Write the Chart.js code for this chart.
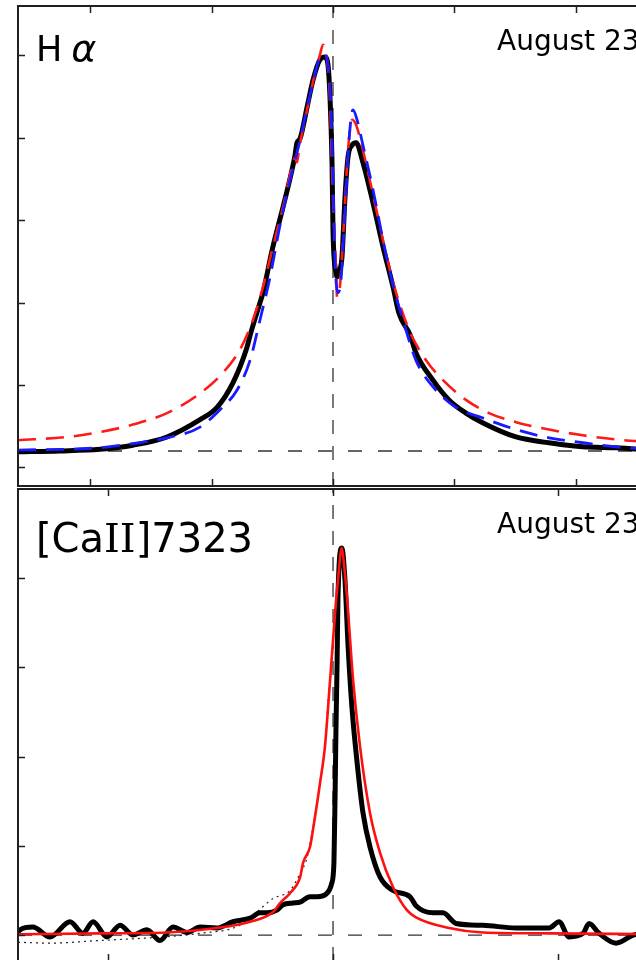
<!DOCTYPE html>
<html><head><meta charset="utf-8">
<script src="https://cdn.jsdelivr.net/npm/chart.js@4"></script>
<style>
html,body{margin:0;padding:0;background:#fff;overflow:hidden;width:636px;height:960px;}
canvas{position:absolute;left:0;}
#c1{top:0;}
#c2{top:480px;}
</style></head><body>
<canvas id="c1" width="680" height="495"></canvas>
<canvas id="c2" width="680" height="495"></canvas>
<script>
// ---------- Top panel: H-alpha (velocity km/s, normalised flux) ----------
const haObsVel  = [-2597,-2251,-1921,-1649,-1369,-1096,-956,-824,-709,-684,-602,-577,-519,-495,-412,-338,-313,-297,-272,-214,-165,-107,-66,-41,-25,-8,0,25,33,58,74,99,124,157,190,247,330,412,495,544,635,684,824,956,1096,1237,1509,1781,2061,2333,2613];
const haObsFlux = [0.19,0.20,0.22,0.27,0.37,0.58,0.73,1.03,1.46,1.60,2.00,2.12,2.52,2.68,3.16,3.61,3.79,3.94,3.99,4.37,4.70,4.95,4.98,4.88,4.50,3.70,2.88,2.36,2.31,2.40,2.55,3.28,3.77,3.91,3.94,3.70,3.21,2.68,2.19,1.87,1.61,1.39,1.06,0.82,0.66,0.54,0.37,0.30,0.25,0.24,0.21];

const haRedVel  = [-2597,-2193,-1921,-1649,-1369,-1096,-907,-767,-660,-577,-495,-412,-338,-313,-297,-280,-214,-165,-107,-82,-49,-25,0,25,33,58,91,124,157,190,247,330,412,495,627,767,907,1096,1286,1509,1781,2061,2333,2613];
const haRedFlux = [0.33,0.37,0.43,0.52,0.66,0.90,1.15,1.43,1.79,2.19,2.68,3.16,3.65,3.76,3.70,3.86,4.34,4.68,5.01,5.13,4.95,4.46,3.25,2.40,2.07,2.21,3.00,3.85,4.22,4.16,3.85,3.31,2.76,2.25,1.67,1.30,1.06,0.82,0.66,0.55,0.46,0.39,0.34,0.31];

const haBlueVel  = [-2597,-1921,-1649,-1369,-1096,-932,-791,-684,-602,-519,-437,-354,-272,-214,-165,-107,-74,-41,-16,0,16,41,66,99,132,165,198,247,330,412,495,577,684,824,1014,1237,1509,1781,2061,2333,2613];
const haBlueFlux = [0.21,0.24,0.29,0.36,0.49,0.70,0.94,1.30,1.79,2.31,2.94,3.49,3.97,4.36,4.67,4.98,5.01,4.88,4.34,3.49,2.52,2.12,2.28,3.12,3.97,4.34,4.22,3.91,3.37,2.76,2.21,1.79,1.30,0.98,0.73,0.60,0.46,0.36,0.30,0.25,0.22];

const haContinuum = 0.20;
const haXTicks = [-2000,-1000,0,1000,2000];
const haYTicks = [0,1,2,3,4,5];
const haXRange = [-2597, 2696];
const haYRange = [-0.225, 5.6];

// ---------- Bottom panel: [CaII] 7323 ----------
const caObsVel  = [-1398,-1389,-1332,-1256,-1167,-1110,-1065,-1003,-945,-888,-826,-768,-710,-648,-590,-515,-444,-368,-324,-293,-249,-222,-178,-146,-102,-71,-27,-6,4,9,13,18,22,39,53,67,84,107,133,164,209,266,342,368,444,488,546,666,812,959,1003,1047,1110,1136,1181,1256,1332,1407];
const caObsFlux = [0.03,0.06,0.09,-0.02,0.15,0.02,0.15,-0.02,0.11,0.00,0.06,-0.06,0.09,0.03,0.09,0.08,0.15,0.19,0.25,0.25,0.28,0.34,0.36,0.37,0.43,0.43,0.47,0.58,0.81,1.55,2.30,3.05,3.79,4.34,3.98,3.23,2.55,1.93,1.37,0.99,0.65,0.50,0.43,0.33,0.25,0.25,0.13,0.11,0.08,0.08,0.15,-0.02,0.02,0.13,0.02,-0.09,0.00,0.03];

const caFitVel  = [-1398,-1034,-737,-515,-368,-266,-235,-191,-146,-133,-102,-89,-58,-36,-13,9,22,39,49,62,89,120,164,209,266,328,368,515,666,959,1407];
const caFitFlux = [0.01,0.02,0.03,0.08,0.15,0.26,0.36,0.47,0.65,0.81,0.99,1.18,1.70,2.11,2.86,3.61,3.98,4.34,4.15,3.79,2.86,2.11,1.37,0.92,0.54,0.28,0.20,0.08,0.03,0.02,0.01];

const caDotVel  = [-1398,-1256,-1034,-812,-590,-413,-266,-191,-146,-115,-89,-58,-36,-22,-4,9,22];
const caDotFlux = [-0.08,-0.09,-0.06,-0.03,0.02,0.11,0.41,0.50,0.69,0.87,1.21,1.70,2.11,2.63,3.08,3.64,3.79];

const caContinuum = 0.0;
const caXTicks = [-1000,0,1000];
const caYTicks = [0,1,2,3,4];
const caXRange = [-1398, 1451];
const caYRange = [-0.29, 5.0];

// ---------- helpers ----------
const pts = (xs, ys) => xs.map((x, i) => ({x, y: ys[i]}));

const framePlugin = {
  id: 'frame',
  afterDatasetsDraw(chart, args, opts) {
    const {ctx, chartArea: a, scales} = chart;
    ctx.save();
    ctx.strokeStyle = '#202020';
    ctx.lineWidth = 2;
    ctx.strokeRect(a.left, a.top, a.right - a.left, a.bottom - a.top);
    ctx.lineWidth = 1.5;
    ctx.beginPath();
    opts.xTicks.forEach(v => {
      const px = Math.round(scales.x.getPixelForValue(v)) + 0.5;
      ctx.moveTo(px, a.top); ctx.lineTo(px, a.top + 7);
      ctx.moveTo(px, a.bottom); ctx.lineTo(px, a.bottom - 7);
    });
    opts.yTicks.forEach(v => {
      const py = Math.round(scales.y.getPixelForValue(v)) + 0.5;
      ctx.moveTo(a.left, py); ctx.lineTo(a.left + 7, py);
    });
    ctx.stroke();
    ctx.fillStyle = '#000';
    ctx.textBaseline = 'alphabetic';
    opts.labels.forEach(lab => {
      let x = a.left + lab.dx;
      const y = a.top + lab.dy;
      lab.parts.forEach(p => {
        ctx.font = p.font;
        x += (p.gap || 0);
        ctx.fillText(p.text, x, y);
        x += ctx.measureText(p.text).width;
      });
    });
    ctx.restore();
  }
};

function makeChart(id, datasets, xr, yr, frameOpts, pad) {
  return new Chart(document.getElementById(id), {
    type: 'line',
    data: {datasets},
    options: {
      responsive: false,
      animation: false,
      devicePixelRatio: 1,
      layout: {padding: pad},
      plugins: {legend: {display: false}, tooltip: {enabled: false}, frame: frameOpts},
      elements: {point: {radius: 0}},
      scales: {
        x: {type: 'linear', display: false, min: xr[0], max: xr[1]},
        y: {type: 'linear', display: false, min: yr[0], max: yr[1]}
      }
    },
    plugins: [framePlugin]
  });
}

const guideStyle = {borderColor: '#333', borderWidth: 1.3, borderDash: [14, 16], pointRadius: 0, tension: 0};

// top panel (first dataset is drawn on top)
makeChart('c1', [
  {label: 'model blue', data: pts(haBlueVel, haBlueFlux), borderColor: '#1a1aff', borderWidth: 2.8, borderDash: [18, 10], cubicInterpolationMode: 'monotone', pointRadius: 0},
  {label: 'model red', data: pts(haRedVel, haRedFlux), borderColor: '#ff1a1a', borderWidth: 2.6, borderDash: [18, 10], cubicInterpolationMode: 'monotone', pointRadius: 0},
  {label: 'H-alpha observed', data: pts(haObsVel, haObsFlux), borderColor: '#000', borderWidth: 5, cubicInterpolationMode: 'monotone', pointRadius: 0},
  Object.assign({label: 'vzero', data: [{x: 0, y: haYRange[0]}, {x: 0, y: haYRange[1]}]}, guideStyle, {borderDash: [14, 12]}),
  Object.assign({label: 'continuum', data: [{x: haXRange[0], y: haContinuum}, {x: haXRange[1], y: haContinuum}]}, guideStyle)
], haXRange, haYRange, {
  xTicks: haXTicks, yTicks: haYTicks,
  labels: [
    {dx: 18, dy: 55, parts: [{text: 'H', font: '35px "DejaVu Sans"'}, {text: 'α', font: 'italic 38px "DejaVu Sans"', gap: 9}]},
    {dx: 479, dy: 44, parts: [{text: 'August 23', font: '28px "DejaVu Sans"'}]}
  ]
}, {left: 18, top: 6, right: 20, bottom: 9});

// bottom panel
makeChart('c2', [
  {label: 'fit', data: pts(caFitVel, caFitFlux), borderColor: '#ff1010', borderWidth: 2.6, cubicInterpolationMode: 'monotone', pointRadius: 0},
  {label: '[CaII] observed', data: pts(caObsVel, caObsFlux), borderColor: '#000', borderWidth: 5, cubicInterpolationMode: 'monotone', pointRadius: 0},
  {label: 'dotted', data: pts(caDotVel, caDotFlux), borderColor: '#222', borderWidth: 1.2, borderDash: [2, 4], cubicInterpolationMode: 'monotone', pointRadius: 0},
  Object.assign({label: 'vzero', data: [{x: 0, y: caYRange[0]}, {x: 0, y: caYRange[1]}]}, guideStyle, {borderDash: [14, 12]}),
  Object.assign({label: 'continuum', data: [{x: caXRange[0], y: caContinuum}, {x: caXRange[1], y: caContinuum}]}, guideStyle)
], caXRange, caYRange, {
  xTicks: caXTicks, yTicks: caYTicks,
  labels: [
    {dx: 18, dy: 63, parts: [{text: '[Ca', font: '40px "DejaVu Sans"'}, {text: 'II', font: '40px "DejaVu Serif"'}, {text: ']7323', font: '40px "DejaVu Sans"'}]},
    {dx: 479, dy: 44, parts: [{text: 'August 23', font: '28px "DejaVu Sans"'}]}
  ]
}, {left: 18, top: 9, right: 20, bottom: 14});
</script>
</body></html>
